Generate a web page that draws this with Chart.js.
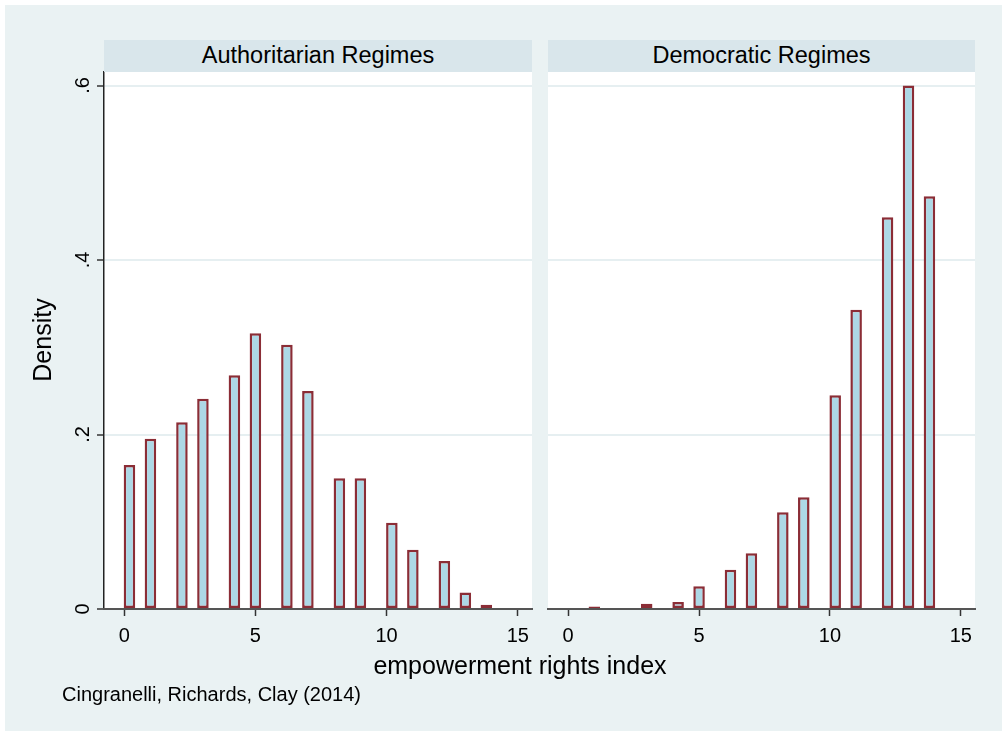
<!DOCTYPE html>
<html>
<head>
<meta charset="utf-8">
<title>Empowerment rights index by regime type</title>
<script src="https://cdn.jsdelivr.net/npm/chart.js@4.4.1/dist/chart.umd.min.js"></script>
<style>
  html, body { margin: 0; padding: 0; background: #ffffff; }
  #page { position: relative; width: 1002px; height: 731px; overflow: hidden;
          font-family: "Liberation Sans", Arial, sans-serif; color: #000; }
  #bg { position: absolute; left: 5px; top: 5px; right: 0; bottom: 0; background: #eaf2f3; }
  canvas { position: absolute; top: 0; }
  .strip { position: absolute; top: 40px; height: 32px; background: #d9e6eb;
           text-align: center; font-size: 23.5px; line-height: 30px; white-space: nowrap; }
  #ytitle { position: absolute; left: -58px; top: 325px; width: 200px; height: 30px;
            line-height: 30px; font-size: 25px; text-align: center; transform: rotate(-90deg); }
  #xtitle { position: absolute; left: 320px; width: 400px; top: 650px; height: 30px;
            line-height: 30px; font-size: 25px; text-align: center; white-space: nowrap; }
  #note { position: absolute; left: 62px; top: 682px; height: 24px; line-height: 24px;
          font-size: 20px; white-space: nowrap; }
</style>
</head>
<body>
<div id="page">
  <div id="bg"></div>
  <canvas id="leftPanel" width="540" height="731" style="left:0px"></canvas>
  <canvas id="rightPanel" width="462" height="731" style="left:540px"></canvas>
  <div class="strip" id="leftStrip" style="left:104px; width:428px;"></div>
  <div class="strip" id="rightStrip" style="left:548px; width:427px;"></div>
  <div id="ytitle"></div>
  <div id="xtitle"></div>
  <div id="note"></div>
</div>
<script>
// Histogram of the empowerment rights index (0-14), density scale,
// 35 bins of width 0.4 over [0, 14], one panel per regime type.
const panelTitles = ['Authoritarian Regimes', 'Democratic Regimes'];
const yAxisTitle = 'Density';
const xAxisTitle = 'empowerment rights index';
const sourceNote = 'Cingranelli, Richards, Clay (2014)';

const indexValues = [0, 1, 2, 3, 4, 5, 6, 7, 8, 9, 10, 11, 12, 13, 14];
// left edge of the bin each index value falls into
const binStarts = [0, 0.8, 2.0, 2.8, 4.0, 4.8, 6.0, 6.8, 8.0, 8.8, 10.0, 10.8, 12.0, 12.8, 13.6];
const binWidth = 0.4;

const authoritarianDensity = [0.165, 0.195, 0.214, 0.241, 0.268, 0.316, 0.303, 0.250,
                              0.150, 0.150, 0.099, 0.068, 0.055, 0.019, 0.005];
const democraticDensity = [null, 0.003, null, 0.006, 0.008, 0.026, 0.045, 0.064,
                           0.111, 0.128, 0.245, 0.343, 0.449, 0.600, 0.473];

const xTickValues = [0, 5, 10, 15];
const yTickValues = [0, 0.2, 0.4, 0.6];
const yTickLabels = ['0', '.2', '.4', '.6'];
const xRange = [-0.77, 15.54];
const yRange = [0, 0.6155];

const FONT = "'Liberation Sans', Arial, sans-serif";

document.getElementById('leftStrip').textContent = panelTitles[0];
document.getElementById('rightStrip').textContent = panelTitles[1];
document.getElementById('ytitle').textContent = yAxisTitle;
document.getElementById('xtitle').textContent = xAxisTitle;
document.getElementById('note').textContent = sourceNote;

// white plot region behind grid and bars
const plotBackground = {
  id: 'plotBackground',
  beforeDraw(chart) {
    const { ctx, chartArea: a } = chart;
    ctx.save();
    ctx.fillStyle = '#ffffff';
    ctx.fillRect(a.left, a.top, a.right - a.left, a.bottom - a.top);
    ctx.restore();
  }
};

function histogramPoints(series) {
  return indexValues.map((v, i) => ({ x: binStarts[i] + binWidth / 2, y: series[i] }));
}

function makePanel(canvasId, series, withYAxis, padLeft, padRight) {
  return new Chart(document.getElementById(canvasId), {
    type: 'bar',
    data: {
      datasets: [{
        data: histogramPoints(series),
        backgroundColor: '#add8e6',
        borderColor: '#8b2d36',
        borderWidth: 2.5,
        borderSkipped: false,
        // points sit 0.8 apart at the closest, so half of that is one bin width;
        // the outline is centred on the bin edge, hence a touch wider
        categoryPercentage: 0.5,
        barPercentage: 1.1
      }]
    },
    options: {
      responsive: false,
      animation: false,
      events: [],
      layout: { padding: { left: padLeft, right: padRight, top: 72, bottom: 0 } },
      plugins: { legend: { display: false }, tooltip: { enabled: false } },
      scales: {
        x: {
          type: 'linear',
          min: xRange[0],
          max: xRange[1],
          offset: false,
          afterBuildTicks(scale) { scale.ticks = xTickValues.map(v => ({ value: v })); },
          afterFit(scale) { scale.height = 122; },
          grid: { display: true, offset: false, drawOnChartArea: false, drawTicks: true,
                  tickLength: 7, tickColor: '#333333', tickWidth: 1.5 },
          border: { display: true, color: '#555555', width: 2, z: 1 },
          ticks: { font: { family: FONT, size: 20 }, color: '#000000', padding: 8,
                   maxRotation: 0, autoSkip: false,
                   callback: (v) => String(v) }
        },
        y: {
          type: 'linear',
          min: yRange[0],
          max: yRange[1],
          afterBuildTicks(scale) { scale.ticks = yTickValues.map(v => ({ value: v })); },
          afterFit(scale) { scale.width = withYAxis ? 104 : 0; },
          grid: { color: '#e6eff1', lineWidth: 2, drawTicks: withYAxis,
                  tickLength: 7, tickColor: '#333333', tickWidth: 1.5 },
          border: { display: withYAxis, color: '#222222', width: 1.5 },
          ticks: {
            display: withYAxis,
            font: { family: FONT, size: 20 }, color: '#000000',
            minRotation: 90, maxRotation: 90, crossAlign: 'center', padding: 5,
            autoSkip: false,
            callback: (v) => {
              const i = yTickValues.findIndex(t => Math.abs(t - v) < 1e-9);
              return i >= 0 ? yTickLabels[i] : '';
            }
          }
        }
      }
    },
    plugins: [plotBackground]
  });
}

makePanel('leftPanel', authoritarianDensity, true, 0, 8);
makePanel('rightPanel', democraticDensity, false, 8, 27);
</script>
</body>
</html>
